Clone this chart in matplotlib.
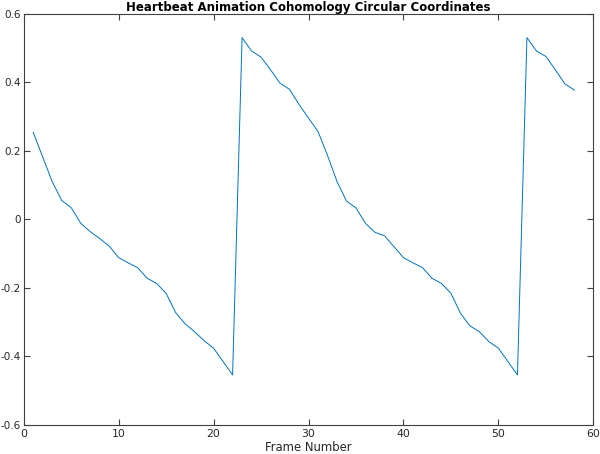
import matplotlib
matplotlib.use("Agg")
import matplotlib.pyplot as plt

# Kreiskoordinaten pro Frame
frames = list(range(1, 59))
coords = [
    0.254, 0.182, 0.110, 0.055, 0.034, -0.011, -0.036, -0.056, -0.078, -0.112,
    -0.127, -0.141, -0.172, -0.187, -0.216, -0.272, -0.305, -0.328, -0.354, -0.376,
    -0.415, -0.454, 0.530, 0.491, 0.473, 0.436, 0.397, 0.379, 0.335, 0.295,
    0.256, 0.186, 0.110, 0.053, 0.033, -0.012, -0.038, -0.048, -0.080, -0.112,
    -0.127, -0.141, -0.172, -0.187, -0.216, -0.274, -0.311, -0.328, -0.357, -0.376,
    -0.415, -0.454, 0.530, 0.491, 0.475, 0.436, 0.395, 0.377,
]
xticks = [0, 10, 20, 30, 40, 50, 60]
yticks = [-0.6, -0.4, -0.2, 0, 0.2, 0.4, 0.6]
ytick_labels = ["-0.6", "-0.4", "-0.2", "0", "0.2", "0.4", "0.6"]

edge = "#404040"

fig = plt.figure(figsize=(6.0, 4.54), dpi=100)
ax = fig.add_axes([0.0395, 0.0639, 0.9495, 0.9061])
ax.plot(frames, coords, color="#0072BD", linewidth=0.7)

ax.set_xlim(0, 60)
ax.set_ylim(-0.6, 0.6)
ax.set_xticks(xticks)
ax.set_yticks(yticks)
ax.set_yticklabels(ytick_labels)
ax.tick_params(direction="in", top=True, right=True, length=4, width=0.8,
               colors=edge, labelcolor="#262626")
ax.tick_params(axis="x", labelsize=7.8, pad=3)
ax.tick_params(axis="y", labelsize=7.5, pad=2)
for s in ax.spines.values():
    s.set_color(edge)
    s.set_linewidth(0.8)

ax.set_xlabel("Frame Number", fontsize=8.4, color="#262626", labelpad=1)
ax.set_title("Heartbeat Animation Cohomology Circular Coordinates",
             fontsize=8.5, fontweight="bold", pad=2)

fig.savefig("out.png", dpi=100)
